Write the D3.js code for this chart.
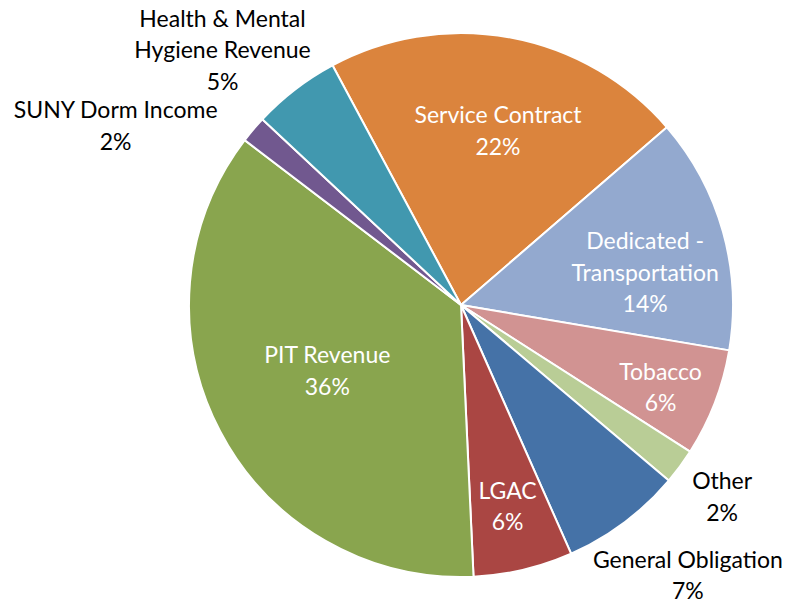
<!DOCTYPE html>
<html>
<head>
<meta charset="utf-8">
<script src="https://cdn.jsdelivr.net/npm/d3@7"></script>
<style>
  body { margin: 0; background: #fff; }
  svg text { font-family: Lato, "Open Sans", sans-serif; font-size: 23px; }
</style>
</head>
<body>
<svg id="chart" width="791" height="605"></svg>
<script>
var categories = ['Service Contract', 'Dedicated - Transportation', 'Tobacco', 'Other',
    'General Obligation', 'LGAC', 'PIT Revenue', 'SUNY Dorm Income', 'Health & Mental Hygiene Revenue'];
var shares = [21.5, 14.0, 6.4, 2.1, 7.2, 5.9, 36.1, 1.6, 5.2];
var pctLabels = ['22%', '14%', '6%', '2%', '7%', '6%', '36%', '2%', '5%'];
var colors = ['#db843d', '#93a9cf', '#d19392', '#b9cd96', '#4572a7', '#aa4643', '#89a54e', '#71588f', '#4198af'];

var width = 791,
    height = 605,
    cx = 461, cy = 305,
    radius = 272;

// label text lines + where to put them (angle in deg from 12 o'clock, distance from center)
var labelLines = [
    ['Service Contract'],
    ['Dedicated -', 'Transportation'],
    ['Tobacco'],
    ['Other'],
    ['General Obligation'],
    ['LGAC'],
    ['PIT Revenue'],
    ['SUNY Dorm Income'],
    ['Health & Mental', 'Hygiene Revenue']
];
var placement = [
    { a: 12, d: 178, inside: true },
    { a: 80, d: 187, inside: true },
    { a: 112.5, d: 216, inside: true },
    { a: 126.3, d: 324, inside: false },
    { a: 140, d: 353, inside: false },
    { a: 167, d: 207, inside: true },
    { a: 243.8, d: 149, inside: true },
    { a: 297.4, d: 389, inside: false },
    { a: 316.9, d: 349, inside: false }
];

var svg = d3.select('#chart');

var startDeg = -28.2;
var pie = d3.pie()
    .sort(null)
    .value(function (d) { return d; })
    .startAngle(startDeg * Math.PI / 180)
    .endAngle((startDeg + 360) * Math.PI / 180);

var arc = d3.arc()
    .innerRadius(0)
    .outerRadius(radius);

var g = svg.append('g')
    .attr('transform', 'translate(' + cx + ',' + cy + ')');

g.selectAll('path')
    .data(pie(shares))
    .enter().append('path')
    .attr('d', arc)
    .attr('fill', function (d, i) { return colors[i]; })
    .attr('stroke', '#fff')
    .attr('stroke-width', 2)
    .attr('stroke-linejoin', 'round');

var lineH = 31.5;

categories.forEach(function (c, i) {
    var p = placement[i];
    var rad = p.a * Math.PI / 180;
    var x = Math.sin(rad) * p.d,
        y = -Math.cos(rad) * p.d;
    var lines = labelLines[i].concat([pctLabels[i]]);
    var top = y - (lines.length - 1) * lineH / 2;
    var t = g.append('text')
        .attr('text-anchor', 'middle')
        .attr('fill', p.inside ? '#fff' : '#000');
    lines.forEach(function (l, j) {
        t.append('tspan')
            .attr('x', x)
            .attr('y', top + j * lineH)
            .attr('dy', '0.35em')
            .text(l);
    });
});
</script>
</body>
</html>
